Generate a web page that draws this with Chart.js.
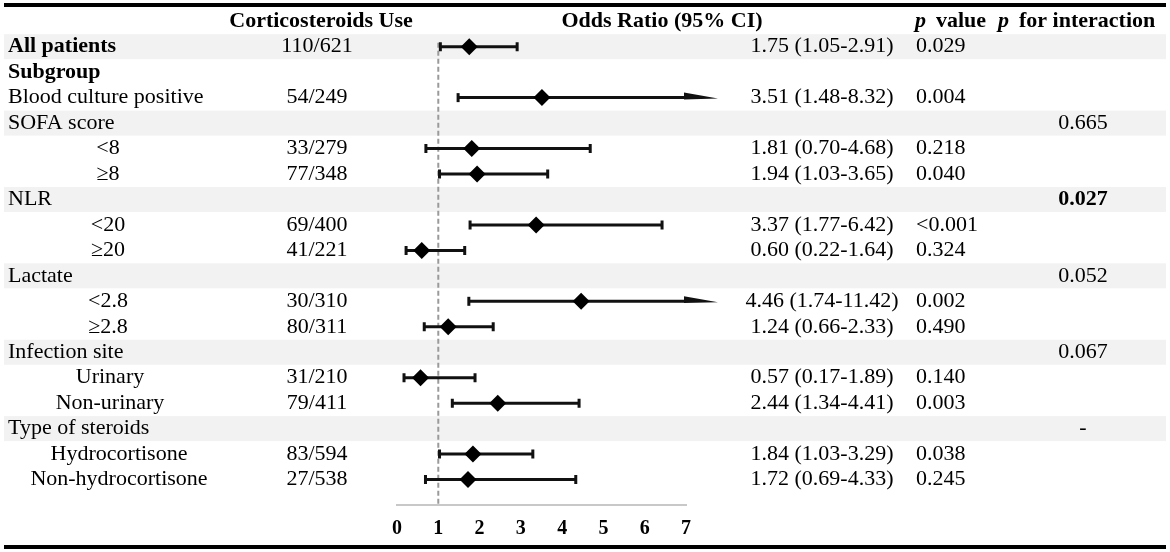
<!DOCTYPE html>
<html>
<head>
<meta charset="utf-8">
<script src="https://cdn.jsdelivr.net/npm/chart.js@4.4.1/dist/chart.umd.min.js"></script>
<style>
  html, body { margin: 0; padding: 0; background: #fff; }
  canvas { display: block; }
</style>
</head>
<body>
<canvas id="forest" width="1170" height="552"></canvas>
<script>
// rows, top to bottom
const rowLabels = ['All patients', 'Subgroup', 'Blood culture positive', 'SOFA score', '<8', '≥8',
  'NLR', '<20', '≥20', 'Lactate', '<2.8', '≥2.8', 'Infection site', 'Urinary', 'Non-urinary',
  'Type of steroids', 'Hydrocortisone', 'Non-hydrocortisone'];
const steroidUse = ['110/621', '', '54/249', '', '33/279', '77/348', '', '69/400', '41/221', '',
  '30/310', '80/311', '', '31/210', '79/411', '', '83/594', '27/538'];
const oddsRatio = [1.75, null, 3.51, null, 1.81, 1.94, null, 3.37, 0.60, null, 4.46, 1.24, null, 0.57, 2.44, null, 1.84, 1.72];
const ciLow = [1.05, null, 1.48, null, 0.70, 1.03, null, 1.77, 0.22, null, 1.74, 0.66, null, 0.17, 1.34, null, 1.03, 0.69];
const ciHigh = [2.91, null, 8.32, null, 4.68, 3.65, null, 6.42, 1.64, null, 11.42, 2.33, null, 1.89, 4.41, null, 3.29, 4.33];
const pValue = ['0.029', '', '0.004', '', '0.218', '0.040', '', '<0.001', '0.324', '', '0.002', '0.490', '',
  '0.140', '0.003', '', '0.038', '0.245'];
const pInteraction = ['', '', '', '0.665', '', '', '0.027', '', '', '0.052', '', '', '0.067', '', '', '-', '', ''];
const xTicks = [0, 1, 2, 3, 4, 5, 6, 7];

// look
const serif = "'Liberation Serif', 'Times New Roman', serif";
const boldRows = ['All patients', 'Subgroup'];
const shadedRows = ['All patients', 'SOFA score', 'NLR', 'Lactate', 'Infection site', 'Type of steroids'];
const boldInteraction = ['0.027'];
function subCentre(label) {
  if (['<8', '≥8', '<20', '≥20', '<2.8', '≥2.8'].includes(label)) return 108;
  if (['Urinary', 'Non-urinary'].includes(label)) return 110;
  if (['Hydrocortisone', 'Non-hydrocortisone'].includes(label)) return 119;
  return null;
}

const points = [];
oddsRatio.forEach((v, i) => { if (v !== null) points.push({ x: v, y: i }); });

// -------------------------
// shaded rows, ref line, CIs
// -------------------------
const forestPlugin = {
  id: 'forest',
  beforeDatasetsDraw(chart) {
    const { ctx, chartArea } = chart;
    const x = chart.scales.x, y = chart.scales.y;
    const xMax = x.max;
    ctx.save();

    ctx.fillStyle = '#f2f2f2';
    rowLabels.forEach((lab, i) => {
      if (shadedRows.includes(lab)) {
        const py = y.getPixelForValue(i);
        ctx.fillRect(4, py - 12.5, 1162, 25);
      }
    });

    const x1 = x.getPixelForValue(1);
    ctx.strokeStyle = '#9a9a9a';
    ctx.lineWidth = 2;
    ctx.setLineDash([5, 3]);
    ctx.beginPath();
    ctx.moveTo(x1, y.getPixelForValue(0) - 4);
    ctx.lineTo(x1, chartArea.bottom);
    ctx.stroke();
    ctx.setLineDash([]);

    ctx.strokeStyle = '#111';
    ctx.fillStyle = '#111';
    oddsRatio.forEach((v, i) => {
      if (v === null) return;
      const py = y.getPixelForValue(i);
      const lo = x.getPixelForValue(ciLow[i]);
      const clipped = ciHigh[i] > xMax;
      const hi = x.getPixelForValue(clipped ? xMax : ciHigh[i]);
      ctx.lineWidth = 3;
      ctx.beginPath();
      ctx.moveTo(lo, py);
      ctx.lineTo(hi, py);
      ctx.stroke();
      ctx.beginPath();
      ctx.moveTo(lo, py - 4.5);
      ctx.lineTo(lo, py + 4.5);
      if (!clipped) {
        ctx.moveTo(hi, py - 4.5);
        ctx.lineTo(hi, py + 4.5);
      }
      ctx.stroke();
      if (clipped) {
        ctx.beginPath();
        ctx.moveTo(hi - 2, py - 5);
        ctx.lineTo(hi + 32, py + 1);
        ctx.lineTo(hi - 2, py + 1.8);
        ctx.closePath();
        ctx.fill();
      }
    });
    ctx.restore();
  },
  afterDraw(chart) {
    const { ctx } = chart;
    const y = chart.scales.y;
    ctx.save();
    ctx.fillStyle = '#000';
    ctx.textBaseline = 'middle';

    // header row
    const hy = y.getPixelForValue(-1);
    ctx.font = 'bold 22px ' + serif;
    ctx.textAlign = 'center';
    ctx.fillText('Corticosteroids Use', 321, hy);
    ctx.fillText('Odds Ratio (95% CI)', 662, hy);
    ctx.textAlign = 'left';
    ctx.font = 'italic bold 22px ' + serif;
    ctx.fillText('p', 915, hy);
    ctx.fillText('p', 998, hy);
    ctx.font = 'bold 22px ' + serif;
    ctx.fillText('value', 936, hy);
    ctx.fillText('for interaction', 1019, hy);

    rowLabels.forEach((lab, i) => {
      const py = y.getPixelForValue(i);
      const c = subCentre(lab);
      ctx.font = (boldRows.includes(lab) ? 'bold ' : '') + '22px ' + serif;
      if (c !== null) {
        ctx.textAlign = 'center';
        ctx.fillText(lab, c, py);
      } else {
        ctx.textAlign = 'left';
        ctx.fillText(lab, 8, py);
      }
      ctx.font = '22px ' + serif;
      ctx.textAlign = 'center';
      if (steroidUse[i]) ctx.fillText(steroidUse[i], 317, py);
      if (oddsRatio[i] !== null) {
        const txt = oddsRatio[i].toFixed(2) + ' (' + ciLow[i].toFixed(2) + '-' + ciHigh[i].toFixed(2) + ')';
        ctx.fillText(txt, 822, py);
      }
      if (pInteraction[i]) {
        ctx.font = (boldInteraction.includes(pInteraction[i]) ? 'bold ' : '') + '22px ' + serif;
        ctx.fillText(pInteraction[i], 1083, py);
      }
      ctx.font = '22px ' + serif;
      ctx.textAlign = 'left';
      if (pValue[i]) ctx.fillText(pValue[i], 916, py);
    });

    // top and bottom rules
    ctx.fillStyle = '#000';
    ctx.fillRect(4, 3, 1162, 4);
    ctx.fillRect(4, 545, 1162, 4);
    ctx.restore();
  }
};

new Chart(document.getElementById('forest').getContext('2d'), {
  type: 'scatter',
  data: {
    datasets: [{
      data: points,
      pointStyle: 'rectRot',
      pointRadius: 8.5,
      pointHoverRadius: 8.5,
      backgroundColor: '#000',
      borderColor: '#000',
      borderWidth: 0,
      clip: false
    }]
  },
  options: {
    responsive: false,
    animation: false,
    layout: { padding: { left: 397, right: 484, top: 7.75, bottom: 0 } },
    plugins: { legend: { display: false }, tooltip: { enabled: false } },
    scales: {
      x: {
        type: 'linear',
        min: xTicks[0],
        max: xTicks[xTicks.length - 1],
        afterBuildTicks: s => { s.ticks = xTicks.map(v => ({ value: v })); },
        afterFit: s => { s.height = 47; },
        grid: { display: false, drawTicks: false },
        border: { display: true, color: '#c8c8c8', width: 2 },
        ticks: { color: '#000', padding: 12, font: { family: serif, size: 20, weight: 'bold' } }
      },
      y: {
        type: 'linear',
        display: false,
        reverse: true,
        min: -1.5,
        max: 18
      }
    }
  },
  plugins: [forestPlugin]
});
</script>
</body>
</html>
